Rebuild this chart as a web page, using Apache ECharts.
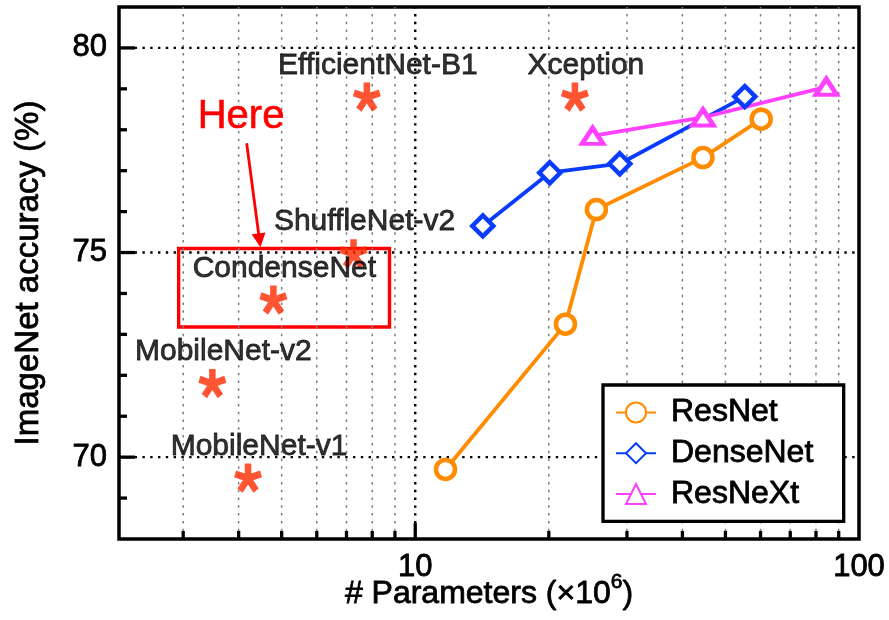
<!DOCTYPE html>
<html>
<head>
<meta charset="utf-8">
<script src="https://cdn.jsdelivr.net/npm/echarts@6/dist/echarts.min.js"></script>
<style>
  html, body { margin: 0; padding: 0; background: #fff; }
  #chart { width: 889px; height: 620px; }
</style>
</head>
<body>
<div id="chart"></div>
<script>
// Parameter count (millions) vs. ImageNet top-1 accuracy (%)
const resnetParams   = [11.7, 21.8, 25.6, 44.5, 60.2];
const resnetAcc      = [69.7, 73.25, 76.05, 77.32, 78.26];
const densenetParams = [14.2, 20.1, 28.9, 55.3];
const densenetAcc    = [75.65, 76.95, 77.17, 78.81];
const resnextParams  = [25.1, 44.5, 84.4];
const resnextAcc     = [77.85, 78.3, 79.05];

const otherNames  = ['EfficientNet-B1', 'Xception', 'ShuffleNet-v2', 'CondenseNet', 'MobileNet-v2', 'MobileNet-v1'];
const otherParams = [7.78, 22.9, 7.26, 4.79, 3.49, 4.20];
const otherAcc    = [78.79, 78.79, 74.96, 73.83, 71.79, 69.48];

// axis ranges and tick values
const X_MIN = 2.15, X_MAX = 100;
const Y_MIN = 68, Y_MAX = 81;
const xMajorTicks = [10];
const xMinorTicks = [3, 4, 5, 6, 7, 8, 9, 20, 30, 40, 50, 60, 70, 80, 90];
const yMajorTicks = [70, 75, 80];
const yMinorTicks = [69, 71, 72, 73, 74, 76, 77, 78, 79];

// callout around CondenseNet (data coordinates)
const calloutText   = 'Here';
const calloutTextAt = [4.05, 78.31];
const arrowFrom     = [4.17, 77.67];
const arrowTo       = [4.457, 75.30];
const boxCorners    = [[2.93, 75.1], [8.75, 73.18]];

const FONT = "'Liberation Sans', Arial, Helvetica, sans-serif";
const ORANGE = '#ff8c00';
const BLUE = '#0a3cff';
const MAGENTA = '#ff40ff';
const STAR_RED = '#ff2a00';
const CALLOUT_RED = '#ff0000';

// slightly heavier glyphs for all chart text
const INK = { color: '#000', textBorderColor: '#000', textBorderWidth: 0.8, fontFamily: FONT };

// five-armed asterisk; the trailing empty subpath keeps the box centred on the hub
const STAR_PATH = 'path://' +
  'M62 50L62 0L38 0L38 50Z' +
  'M53.71 61.41L101.26 45.96L93.84 23.14L46.29 38.59Z' +
  'M40.29 57.05L69.68 97.5L89.1 83.4L59.71 42.95Z' +
  'M40.29 42.95L10.9 83.4L30.32 97.5L59.71 57.05Z' +
  'M53.71 38.59L6.16 23.14L-1.26 45.96L46.29 61.41Z' +
  'M50 100L50 100Z';

const zip = (xs, ys) => xs.map((x, i) => [x, ys[i]]);

// gridlines and inward ticks, placed through the axis scales
const frameItems = [];
xMinorTicks.forEach(v => frameItems.push({ kind: 'xMinor', value: [v, Y_MIN] }));
xMajorTicks.forEach(v => frameItems.push({ kind: 'xMajor', value: [v, Y_MIN] }));
yMinorTicks.forEach(v => frameItems.push({ kind: 'yMinor', value: [X_MIN, v] }));
yMajorTicks.forEach(v => frameItems.push({ kind: 'yMajor', value: [X_MIN, v] }));

const dotMajor = { stroke: '#000', lineWidth: 2.4, lineDash: [2.4, 5.4], fill: null };
const dotMinor = { stroke: '#7c7c7c', lineWidth: 1.5, lineDash: [2.5, 5.3], fill: null };
const tickStyle = { stroke: '#000', lineWidth: 3.3, fill: null };

function renderFrame(params, api) {
  const it = frameItems[params.dataIndex];
  const children = [];
  if (it.kind === 'xMinor' || it.kind === 'xMajor') {
    const v = api.value(0);
    const p0 = api.coord([v, Y_MIN]);
    const p1 = api.coord([v, Y_MAX]);
    const major = it.kind === 'xMajor';
    children.push({ type: 'line', shape: { x1: p0[0], y1: p0[1], x2: p1[0], y2: p1[1] }, style: major ? dotMajor : dotMinor });
    children.push({ type: 'line', shape: { x1: p0[0], y1: p0[1], x2: p0[0], y2: p0[1] - (major ? 16 : 8) }, style: tickStyle });
  } else {
    const v = api.value(1);
    const p0 = api.coord([X_MIN, v]);
    const p1 = api.coord([X_MAX, v]);
    const major = it.kind === 'yMajor';
    if (major) {
      children.push({ type: 'line', shape: { x1: p0[0], y1: p0[1], x2: p1[0], y2: p1[1] }, style: dotMajor });
    }
    children.push({ type: 'line', shape: { x1: p0[0], y1: p0[1], x2: p0[0] + (major ? 16 : 8), y2: p0[1] }, style: tickStyle });
  }
  return { type: 'group', children };
}

const isPow10 = v => Math.abs(Math.log10(v) - Math.round(Math.log10(v))) < 1e-6;

const chart = echarts.init(document.getElementById('chart'), null, { renderer: 'canvas' });

chart.setOption({
  backgroundColor: '#fff',
  animation: false,
  textStyle: { fontFamily: FONT },
  grid: {
    left: 119, right: 30, top: 7, bottom: 81,
    show: true, borderColor: '#000', borderWidth: 3.5, backgroundColor: '#fff',
    containLabel: false, outerBoundsMode: 'none'
  },
  legend: {
    data: ['ResNet', 'DenseNet', 'ResNeXt'],
    orient: 'vertical',
    left: 603, top: 385,
    padding: [11, 30, 11, 12],
    itemGap: 8,
    itemWidth: 40, itemHeight: 25,
    borderColor: '#000', borderWidth: 3.3, borderRadius: 0,
    backgroundColor: '#fff',
    textStyle: Object.assign({ fontSize: 32, padding: [0, 0, 0, 10] }, INK),
    z: 10
  },
  xAxis: {
    type: 'log', logBase: 10, min: X_MIN, max: X_MAX,
    axisLine: { show: false }, axisTick: { show: false },
    splitLine: { show: false }, minorTick: { show: false }, minorSplitLine: { show: false },
    axisLabel: Object.assign({
      fontSize: 31, margin: 13,
      showMinLabel: true, showMaxLabel: true,
      formatter: v => (isPow10(v) ? String(Math.round(v)) : '')
    }, INK),
    name: '# Parameters (×10{sup|6})',
    nameLocation: 'middle', nameGap: 33, nameMoveOverlap: false,
    nameTextStyle: Object.assign({
      fontSize: 32,
      rich: { sup: Object.assign({ fontSize: 21, verticalAlign: 'top', padding: [0, 0, 24, 0] }, INK) }
    }, INK)
  },
  yAxis: {
    type: 'value', min: Y_MIN, max: Y_MAX, interval: 1,
    axisLine: { show: false }, axisTick: { show: false }, splitLine: { show: false },
    axisLabel: Object.assign({
      fontSize: 31, margin: 12,
      formatter: v => (yMajorTicks.includes(v) ? String(v) : '')
    }, INK),
    name: 'ImageNet accuracy (%)',
    nameLocation: 'middle', nameGap: 74, nameMoveOverlap: false,
    nameTextStyle: Object.assign({ fontSize: 33 }, INK)
  },
  series: [
    {
      type: 'custom', name: 'frame', silent: true, z: 1, clip: false,
      data: frameItems.map(d => d.value), encode: { x: 0, y: 1 },
      renderItem: renderFrame
    },
    {
      name: 'ResNet', type: 'line', z: 3,
      data: zip(resnetParams, resnetAcc),
      symbol: 'circle', symbolSize: 19,
      lineStyle: { width: 3.8, color: ORANGE },
      itemStyle: { color: '#fff', borderColor: ORANGE, borderWidth: 4.5 }
    },
    {
      name: 'DenseNet', type: 'line', z: 3,
      data: zip(densenetParams, densenetAcc),
      symbol: 'diamond', symbolSize: 21,
      lineStyle: { width: 3.8, color: BLUE },
      itemStyle: { color: '#fff', borderColor: BLUE, borderWidth: 4.5 }
    },
    {
      name: 'ResNeXt', type: 'line', z: 3,
      data: zip(resnextParams, resnextAcc),
      symbol: 'triangle', symbolSize: [21, 16],
      lineStyle: { width: 3.8, color: MAGENTA },
      itemStyle: { color: '#fff', borderColor: MAGENTA, borderWidth: 4.5 }
    },
    {
      name: 'Others', type: 'scatter', z: 4,
      data: otherNames.map((n, i) => ({ name: n, value: [otherParams[i], otherAcc[i]] })),
      symbol: STAR_PATH, symbolSize: [28, 30],
      itemStyle: { color: STAR_RED },
      label: Object.assign({
        show: true, formatter: '{b}', position: 'inside', offset: [11, -32], fontSize: 30
      }, INK),
      markArea: {
        silent: true,
        itemStyle: { color: 'rgba(0,0,0,0)', borderColor: CALLOUT_RED, borderWidth: 3.4 },
        label: { show: false },
        data: [[{ coord: boxCorners[0] }, { coord: boxCorners[1] }]]
      },
      markLine: {
        silent: true,
        symbol: ['none', 'triangle'], symbolSize: 14,
        lineStyle: { color: CALLOUT_RED, width: 2.8, type: 'solid' },
        label: { show: false },
        data: [[{ coord: arrowFrom }, { coord: arrowTo }]]
      },
      markPoint: {
        silent: true,
        symbol: 'circle', symbolSize: 0,
        label: {
          show: true, position: 'inside', formatter: '{b}', fontSize: 40,
          color: CALLOUT_RED, textBorderColor: CALLOUT_RED, textBorderWidth: 0.6, fontFamily: FONT
        },
        data: [{ name: calloutText, coord: calloutTextAt }]
      }
    }
  ]
});
</script>
</body>
</html>
